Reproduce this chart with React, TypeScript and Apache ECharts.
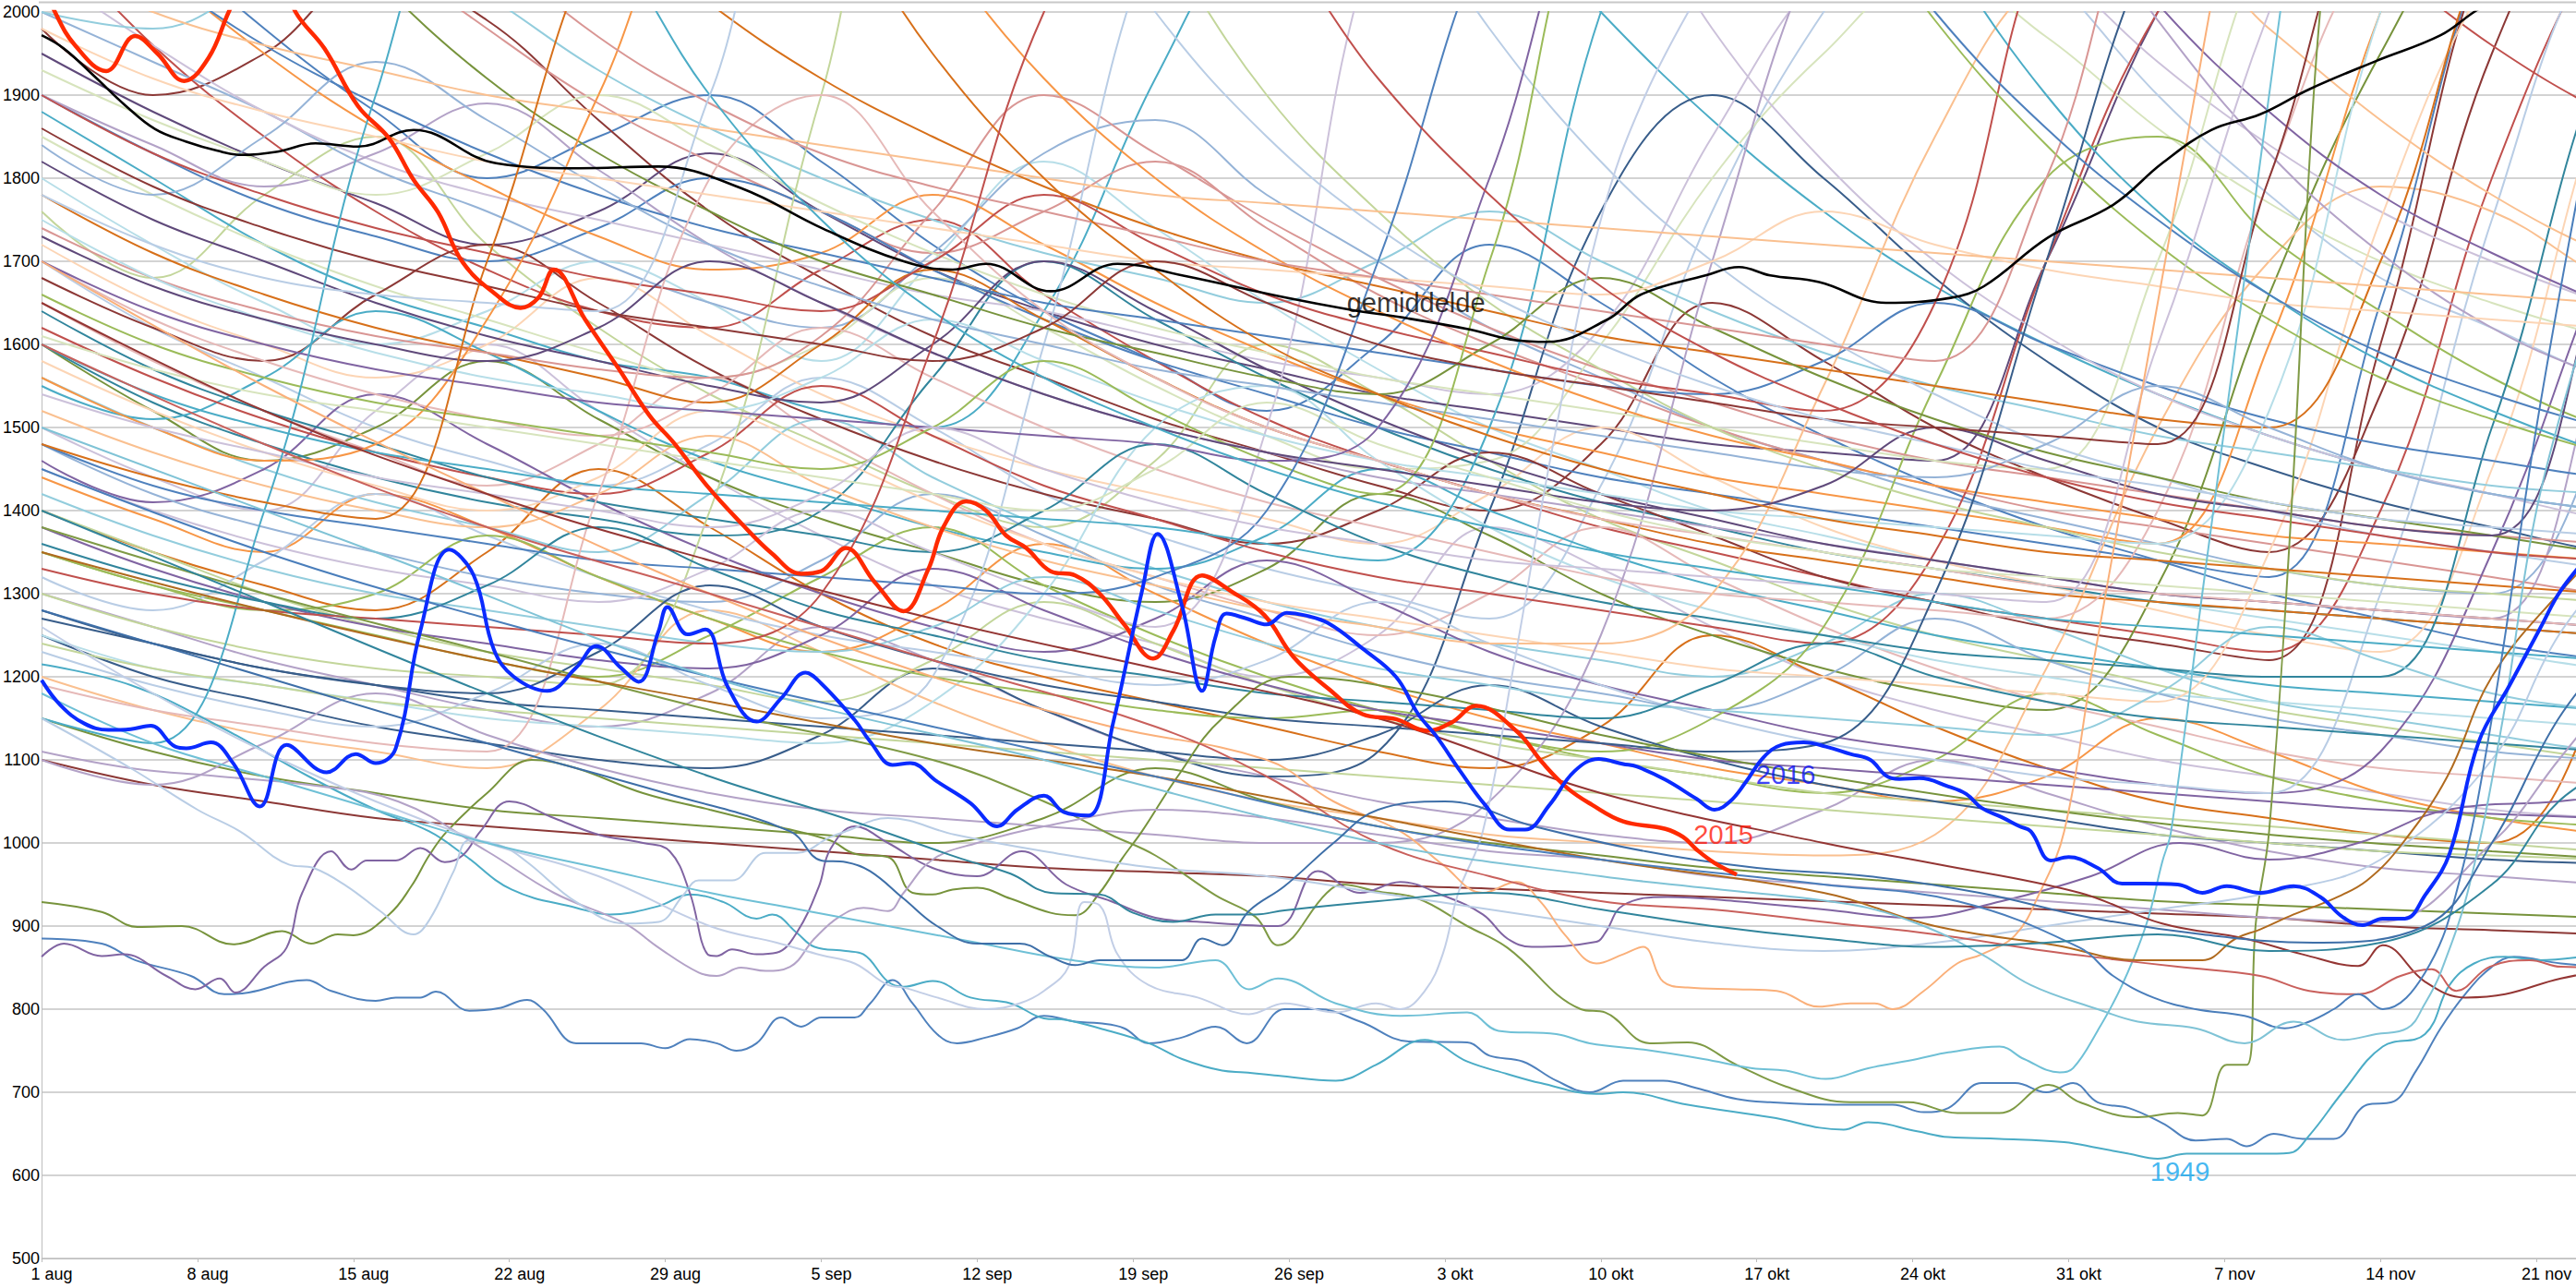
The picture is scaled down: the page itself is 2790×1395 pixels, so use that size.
import React, { useEffect, useRef } from "react";
import * as echarts from "echarts";

// x = days since 1 aug
const GRID_DAYS = [0, 5, 10, 15, 20, 25, 30, 35, 40, 45, 50, 55, 60, 65, 70, 75, 80, 85, 90, 95, 100, 105, 110, 115, 120];
const MONTHS = [
  { name: "aug", len: 31 },
  { name: "sep", len: 30 },
  { name: "okt", len: 31 },
  { name: "nov", len: 30 },
];
const Y_MIN = 500;
const Y_MAX = 2000;
const Y_STEP = 100;
const X_MAX = 120;
const X_STEP = 7;

// Background years sampled every 5 days (values in cm)
const BG_A = [
  [2250, 2100, 1980, 1880, 1800, 1850, 1900, 1820, 1720, 1640, 1580, 1520, 1600, 1720, 1650, 1560, 1490, 1430, 1380, 1340, 1300, 1270, 1240, 1220, 1200],
  [1980, 1900, 1950, 2050, 1990, 1870, 1760, 1680, 1610, 1560, 1510, 1470, 1430, 1400, 1480, 1650, 1580, 1500, 1440, 1390, 1350, 1540, 1950, 2200, 2300],
  [1760, 1680, 1780, 1850, 1720, 1620, 1540, 1480, 1420, 1380, 1460, 1600, 1540, 1460, 1390, 1340, 1290, 1250, 1220, 1190, 1160, 1140, 1120, 1100, 1080],
  [1500, 1440, 1400, 1520, 1600, 1520, 1440, 1370, 1310, 1270, 1240, 1200, 1250, 1380, 1330, 1260, 1200, 1160, 1130, 1100, 1080, 1060, 1040, 1030, 1020],
  [1880, 1800, 1720, 1660, 1620, 1580, 1560, 1520, 1500, 1640, 1920, 2150, 2250, 2150, 2000, 1870, 1760, 1670, 1600, 1540, 1490, 1450, 1420, 1400, 1380],
  [1400, 1350, 1310, 1280, 1350, 1450, 1380, 1300, 1240, 1200, 1170, 1140, 1110, 1090, 1140, 1250, 1200, 1140, 1090, 1050, 1030, 1010, 1000, 1200, 1700],
  [1700, 1620, 1560, 1500, 1460, 1430, 1480, 1560, 1500, 1420, 1370, 1330, 1300, 1270, 1430, 1760, 2000, 2160, 2050, 1900, 1780, 1680, 1620, 1560, 1520],
  [2100, 1960, 1850, 1760, 1690, 1640, 1620, 1690, 1750, 1660, 1580, 1510, 1460, 1420, 1380, 1350, 1320, 1290, 1270, 1250, 1230, 1400, 1800, 2100, 2300],
  [1600, 1520, 1460, 1500, 1580, 1510, 1440, 1390, 1350, 1310, 1290, 1330, 1420, 1370, 1300, 1250, 1210, 1180, 1160, 1310, 1660, 1950, 2150, 2200, 2200],
  [1300, 1260, 1220, 1190, 1160, 1140, 1180, 1260, 1220, 1160, 1110, 1080, 1050, 1030, 1010, 1000, 1040, 1100, 1060, 1020, 990, 970, 960, 950, 940],
  [1800, 1720, 1650, 1600, 1640, 1700, 1650, 1580, 1700, 1820, 1740, 1650, 1570, 1500, 1450, 1400, 1370, 1340, 1310, 1290, 1270, 1250, 1230, 1210, 1200],
  [1440, 1390, 1350, 1420, 1380, 1320, 1270, 1230, 1280, 1360, 1300, 1240, 1190, 1150, 1120, 1090, 1070, 1050, 1080, 1150, 1110, 1060, 1030, 1010, 990],
  [2000, 1940, 1880, 1810, 1760, 1700, 1650, 1620, 1710, 1830, 1870, 1780, 1700, 1620, 1560, 1500, 1460, 1420, 1390, 1360, 1330, 1310, 1300, 1500, 1900],
  [1650, 1580, 1520, 1470, 1430, 1480, 1560, 1490, 1420, 1360, 1320, 1280, 1250, 1300, 1380, 1320, 1260, 1210, 1170, 1140, 1110, 1090, 1080, 1070, 1060],
  [1350, 1310, 1280, 1250, 1220, 1200, 1250, 1320, 1380, 1310, 1250, 1200, 1160, 1130, 1100, 1080, 1060, 1100, 1180, 1130, 1080, 1050, 1030, 1020, 1010],
];
const BG_B = [
  [1950, 1880, 1820, 1770, 1720, 1760, 1830, 1760, 1690, 1640, 1600, 1570, 1540, 1520, 1500, 1480, 1470, 1460, 1700, 2000, 2200, 2200, 2100, 2000, 1950],
  [1560, 1500, 1450, 1410, 1380, 1350, 1420, 1510, 1440, 1380, 1330, 1290, 1260, 1240, 1220, 1200, 1240, 1300, 1260, 1210, 1170, 1150, 1130, 1110, 1100],
  [1720, 1650, 1600, 1560, 1600, 1680, 1610, 1540, 1490, 1450, 1420, 1390, 1360, 1420, 1500, 1440, 1380, 1340, 1310, 1280, 1250, 1230, 1450, 1900, 2200],
  [1250, 1200, 1170, 1140, 1120, 1100, 1090, 1130, 1210, 1160, 1110, 1080, 1110, 1400, 1760, 1900, 1800, 1680, 1580, 1500, 1450, 1410, 1380, 1350, 1330],
  [2300, 2300, 2200, 2080, 1980, 1890, 1820, 1760, 1710, 1760, 1820, 1740, 1660, 1600, 1550, 1500, 1460, 1430, 1400, 1380, 1360, 1340, 1320, 1300, 1290],
  [1850, 1780, 1720, 1670, 1630, 1590, 1560, 1600, 1680, 1620, 1550, 1490, 1450, 1460, 1600, 1800, 1950, 2050, 1970, 1860, 1770, 1700, 1650, 1610, 1580],
  [1460, 1410, 1450, 1540, 1480, 1410, 1350, 1300, 1260, 1230, 1270, 1340, 1290, 1230, 1190, 1160, 1130, 1110, 1090, 1070, 1060, 1110, 1350, 1700, 2000],
  [1600, 1530, 1480, 1440, 1410, 1390, 1370, 1400, 1560, 1700, 1630, 1560, 1500, 1450, 1410, 1380, 1350, 1330, 1310, 1290, 1280, 1270, 1260, 1250, 1240],
  [1200, 1160, 1130, 1110, 1090, 1160, 1280, 1230, 1170, 1120, 1080, 1050, 1030, 1010, 1000, 990, 985, 1010, 1210, 1500, 1700, 1790, 1760, 1680, 1620],
  [1900, 1830, 1770, 1730, 1700, 1740, 1800, 1760, 1690, 1630, 1580, 1540, 1500, 1470, 1440, 1420, 1400, 1380, 1360, 1340, 1320, 1650, 2100, 2300, 2300],
  [1680, 1620, 1580, 1660, 1720, 1650, 1570, 1510, 1460, 1420, 1390, 1360, 1400, 1470, 1420, 1370, 1320, 1290, 1260, 1240, 1220, 1600, 2100, 2300, 2300],
  [1400, 1350, 1300, 1260, 1230, 1210, 1190, 1170, 1220, 1290, 1240, 1190, 1150, 1120, 1100, 1080, 1060, 1050, 1040, 1030, 1020, 1010, 1000, 990, 985],
  [2050, 1960, 1880, 1820, 1780, 1750, 1720, 1690, 1660, 1640, 1610, 1580, 1560, 1540, 1620, 1850, 2050, 2140, 2060, 1940, 1840, 1760, 1700, 1650, 1610],
  [1550, 1510, 1560, 1640, 1590, 1520, 1460, 1420, 1380, 1350, 1330, 1370, 1450, 1400, 1350, 1310, 1280, 1250, 1230, 1210, 1190, 1180, 1170, 1160, 1150],
  [1780, 1710, 1660, 1620, 1590, 1560, 1530, 1600, 1690, 1630, 1560, 1500, 1460, 1420, 1390, 1360, 1340, 1320, 1300, 1290, 1280, 1270, 1260, 1250, 1240],
];
const BG_C = [
  [1320, 1280, 1340, 1420, 1370, 1320, 1280, 1250, 1230, 1210, 1190, 1220, 1290, 1240, 1190, 1150, 1120, 1100, 1080, 1070, 1060, 1300, 1750, 2100, 2200],
  [1620, 1560, 1510, 1470, 1440, 1420, 1470, 1550, 1490, 1430, 1390, 1350, 1320, 1300, 1280, 1260, 1240, 1350, 1700, 2000, 2150, 2060, 1960, 1880, 1820],
  [1150, 1110, 1080, 1060, 1040, 1030, 1020, 1010, 1000, 1030, 1090, 1050, 1020, 1000, 985, 970, 960, 950, 940, 930, 925, 920, 915, 910, 905],
  [1900, 1840, 1790, 1830, 1890, 1810, 1720, 1650, 1590, 1540, 1500, 1470, 1440, 1420, 1400, 1380, 1360, 1340, 1320, 1300, 1290, 1280, 1270, 1600, 2000],
  [1250, 1210, 1190, 1170, 1150, 1140, 1130, 1120, 1170, 1300, 1500, 1550, 1460, 1380, 1320, 1280, 1250, 1220, 1200, 1180, 1170, 1160, 1150, 1140, 1130],
  [2200, 2060, 1950, 1860, 1790, 1730, 1690, 1710, 1780, 1720, 1650, 1590, 1540, 1500, 1470, 1440, 1420, 1400, 1380, 1360, 1600, 2000, 2300, 2300, 2300],
  [1480, 1420, 1380, 1350, 1320, 1300, 1290, 1340, 1420, 1370, 1310, 1270, 1230, 1200, 1180, 1160, 1200, 1270, 1220, 1180, 1150, 1130, 1110, 1100, 1090],
  [1700, 1630, 1580, 1540, 1510, 1490, 1540, 1620, 1560, 1500, 1450, 1410, 1380, 1350, 1320, 1300, 1290, 1280, 1270, 1400, 1800, 2100, 2200, 2200, 2200],
  [1350, 1310, 1280, 1300, 1370, 1320, 1270, 1230, 1200, 1180, 1160, 1150, 1160, 1130, 1110, 1150, 1260, 1550, 1800, 1850, 1730, 1640, 1560, 1500, 1460],
  [1820, 1750, 1700, 1650, 1610, 1580, 1550, 1530, 1600, 1700, 1640, 1570, 1510, 1460, 1420, 1390, 1360, 1340, 1320, 1300, 1290, 1280, 1270, 1260, 1250],
  [2000, 1980, 2040, 2100, 2020, 1930, 1860, 1800, 1750, 1710, 1680, 1650, 1700, 1760, 1700, 1640, 1590, 1550, 1520, 1490, 1470, 1450, 1430, 1420, 1410],
  [1580, 1520, 1470, 1430, 1400, 1440, 1520, 1470, 1410, 1360, 1320, 1290, 1270, 1250, 1230, 1210, 1200, 1190, 1180, 1170, 1350, 1750, 2050, 2200, 2200],
  [1270, 1240, 1210, 1190, 1170, 1160, 1150, 1140, 1130, 1120, 1110, 1100, 1130, 1190, 1140, 1100, 1070, 1050, 1030, 1010, 1000, 990, 980, 975, 970],
  [1740, 1680, 1640, 1610, 1590, 1570, 1560, 1610, 1760, 1900, 1830, 1750, 1680, 1620, 1570, 1530, 1490, 1460, 1440, 1420, 1400, 1380, 1370, 1360, 1350],
  [1930, 1870, 1820, 1780, 1830, 1900, 1840, 1770, 1710, 1660, 1620, 1590, 1560, 1540, 1520, 1500, 1480, 1460, 1450, 1700, 2100, 2300, 2300, 2300, 2300],
];
const BG_D = [
  [1380, 1330, 1290, 1260, 1240, 1220, 1210, 1250, 1330, 1280, 1230, 1190, 1160, 1140, 1120, 1100, 1090, 1080, 1070, 1060, 1050, 1040, 1035, 1030, 1025],
  [1640, 1570, 1520, 1480, 1440, 1410, 1390, 1370, 1350, 1400, 1480, 1420, 1360, 1320, 1290, 1270, 1250, 1230, 1220, 1210, 1200, 1200, 1500, 1950, 2200],
  [1520, 1470, 1430, 1400, 1380, 1420, 1490, 1430, 1380, 1340, 1310, 1280, 1260, 1240, 1240, 1300, 1550, 1850, 2050, 2090, 1980, 1870, 1780, 1710, 1660],
  [2150, 2050, 1960, 1890, 1830, 1780, 1740, 1710, 1680, 1650, 1630, 1610, 1590, 1570, 1550, 1540, 1580, 1650, 1600, 1550, 1510, 1480, 1460, 1440, 1430],
  [1100, 1070, 1050, 1030, 1020, 1010, 1000, 990, 980, 970, 965, 960, 950, 945, 940, 935, 930, 925, 920, 915, 910, 900, 895, 890, 885],
  [1300, 1260, 1230, 1210, 1200, 1190, 1400, 1900, 2300, 2300, 2100, 1900, 1760, 1650, 1570, 1500, 1450, 1410, 1380, 1350, 1330, 1310, 1300, 1290, 1280],
  [1450, 1400, 1360, 1330, 1310, 1290, 1330, 1400, 1350, 1300, 1260, 1500, 2100, 2300, 2200, 1980, 1820, 1700, 1610, 1540, 1490, 1450, 1420, 1390, 1370],
  [1600, 1540, 1500, 1470, 1450, 1430, 1420, 1410, 1400, 1390, 1380, 1360, 1340, 1500, 2000, 2300, 2300, 2090, 1900, 1760, 1660, 1580, 1520, 1470, 1430],
  [2300, 2300, 2300, 2300, 2250, 2120, 2010, 1920, 1850, 1790, 1740, 1700, 1670, 1640, 1610, 1590, 1570, 1550, 1530, 1510, 1500, 1700, 2100, 2300, 2300],
  [1230, 1190, 1160, 1140, 1180, 1240, 1190, 1150, 1200, 1600, 2100, 2300, 2180, 1980, 1820, 1700, 1610, 1540, 1480, 1440, 1400, 1370, 1350, 1330, 1310],
  [1900, 1830, 1780, 1740, 1710, 1680, 1660, 1640, 1700, 1780, 1720, 1660, 1620, 1590, 1560, 1540, 1520, 1650, 2100, 2300, 2300, 2300, 2300, 2300, 2300],
  [2300, 2300, 2180, 2040, 1920, 1830, 1760, 1700, 1660, 1620, 1590, 1560, 1540, 1600, 1680, 1620, 1560, 1510, 1470, 1440, 1410, 1390, 1370, 1350, 1340],
  [1100, 1070, 1120, 1180, 1130, 1090, 1060, 1040, 1030, 1020, 1010, 1000, 1000, 1050, 1250, 1700, 2100, 2300, 2180, 1990, 1830, 1710, 1620, 1560, 1510],
  [1750, 1680, 1630, 1590, 1560, 1540, 1520, 1560, 1630, 1580, 1530, 1490, 1460, 1440, 1420, 1400, 1390, 1380, 1370, 1360, 1520, 2000, 2300, 2300, 2300],
  [1560, 1500, 1460, 1480, 1630, 1900, 2200, 2240, 2080, 1920, 1800, 1710, 1640, 1580, 1530, 1490, 1460, 1430, 1410, 1390, 1370, 1360, 1350, 1340, 1330],
];
const BG_E = [
  [1840, 1780, 1850, 1940, 1870, 1790, 1720, 1670, 1630, 1600, 1570, 1550, 1530, 1510, 1490, 1470, 1450, 1440, 1480, 1550, 1500, 1450, 1420, 1400, 1380],
  [1190, 1160, 1140, 1120, 1110, 1420, 1800, 1900, 1760, 1640, 1560, 1500, 1460, 1420, 1390, 1370, 1350, 1330, 1310, 1300, 1290, 1280, 1270, 1260, 1250],
  [1660, 1600, 1560, 1530, 1510, 1490, 1470, 1450, 1500, 1580, 1520, 1460, 1420, 1700, 2200, 2300, 2180, 1990, 1840, 1720, 1630, 1560, 1510, 1470, 1440],
  [1730, 1670, 1630, 1600, 1580, 1620, 1700, 1650, 1590, 1540, 1500, 1470, 1450, 1430, 1410, 1400, 1430, 1500, 1460, 1420, 1400, 1380, 1370, 1700, 2100],
  [1420, 1370, 1330, 1300, 1280, 1260, 1240, 1230, 1260, 1320, 1280, 1240, 1210, 1190, 1170, 1160, 1150, 1140, 1130, 1180, 1260, 1220, 1180, 1160, 1150],
  [1980, 1920, 1880, 1850, 1820, 1800, 1780, 1760, 1740, 1720, 1700, 1690, 1680, 1670, 1660, 1700, 1760, 1720, 1690, 1670, 1650, 1640, 1630, 1620, 1610],
  [1280, 1240, 1210, 1190, 1180, 1230, 1310, 1260, 1220, 1190, 1170, 1150, 1140, 1130, 1120, 1110, 1120, 1300, 1700, 2100, 2300, 2300, 2180, 2020, 1900],
  [2300, 2300, 2300, 2200, 2080, 1970, 1890, 1830, 1790, 1760, 1730, 1700, 1680, 1660, 1640, 1620, 1600, 1580, 1800, 2200, 2300, 2300, 2300, 2300, 2300],
  [1610, 1570, 1540, 1520, 1500, 1480, 1460, 1440, 1420, 1400, 1450, 1530, 1480, 1440, 1400, 1370, 1350, 1330, 1320, 1310, 1300, 1290, 1280, 1270, 1260],
  [1700, 1640, 1600, 1570, 1550, 1530, 1520, 1510, 1500, 1490, 1480, 1460, 1500, 1800, 2200, 2300, 2300, 2300, 2180, 2010, 1880, 1780, 1710, 1650, 1600],
  [1360, 1320, 1290, 1270, 1310, 1380, 1330, 1280, 1250, 1220, 1200, 1180, 1170, 1160, 1150, 1190, 1240, 1200, 1170, 1150, 1140, 1130, 1120, 1110, 1100],
  [2060, 2000, 1960, 1930, 1900, 1880, 1860, 1840, 1820, 1800, 1780, 1770, 1760, 1750, 1740, 1730, 1720, 1710, 1700, 1690, 1680, 1670, 1660, 1650, 1640],
  [1480, 1430, 1400, 1380, 1360, 1340, 1330, 1320, 1310, 1300, 1320, 1400, 1700, 2100, 2300, 2300, 2180, 2000, 1860, 1750, 1660, 1590, 1540, 1500, 1470],
  [1860, 1790, 1740, 1700, 1670, 1640, 1620, 1600, 1580, 1620, 1700, 1650, 1600, 1570, 1550, 1530, 1510, 1500, 1490, 1480, 1800, 2200, 2300, 2300, 2300],
  [1240, 1210, 1190, 1170, 1160, 1150, 1140, 1130, 1120, 1110, 1100, 1090, 1080, 1070, 1060, 1050, 1040, 1030, 1020, 1010, 1000, 990, 985, 980, 975],
  [1540, 1500, 1470, 1440, 1420, 1400, 1380, 1420, 1500, 1450, 1410, 1380, 1360, 1340, 1330, 1320, 1310, 1300, 1290, 1600, 2000, 2300, 2300, 2300, 2300],
  [1150, 1120, 1400, 1900, 2200, 2100, 1900, 1750, 1640, 1560, 1500, 1450, 1410, 1380, 1350, 1330, 1310, 1290, 1270, 1260, 1250, 1240, 1230, 1220, 1210],
  [1480, 1440, 1410, 1390, 1700, 2100, 2300, 2150, 1950, 1800, 1690, 1600, 1540, 1490, 1450, 1420, 1390, 1370, 1350, 1340, 1330, 1320, 1310, 1300, 1290],
  [1780, 1720, 1680, 1660, 1650, 1640, 1900, 2300, 2300, 2200, 2000, 1850, 1740, 1660, 1600, 1550, 1510, 1480, 1450, 1430, 1410, 1390, 1380, 1370, 1360],
  [1330, 1300, 1280, 1270, 1260, 1250, 1240, 1300, 1600, 2000, 2200, 2100, 1920, 1780, 1670, 1590, 1530, 1480, 1440, 1410, 1390, 1370, 1350, 1340, 1330],
];

// Individually traced low years: [day, value]
const T_LOW_BLUE = [[0,885],[2.7,879],[4.2,859],[6.7,840],[8.2,818],[9.3,820],[11.9,835],[13,822],[15,810],[15.9,814],[17,814],[17.7,821],[19.2,798],[20.5,801],[21.8,811],[22.5,800],[24,759],[25.1,759],[26.9,759],[28,753],[29.1,764],[30.3,759],[31.2,750],[32.1,759],[33.2,790],[34.1,779],[35,790],[36.5,790],[37.2,807],[38.2,835],[39.1,807],[40.2,770],[41.1,759],[42.4,766],[43.8,777],[45,792],[46.4,785],[47.5,783],[48.6,777],[49.7,759],[51.2,766],[52.7,779],[54.1,759],[55.8,800],[57.3,800],[59.2,785],[61.4,761],[64,760],[65,744],[66.5,737],[68,714],[69.5,700],[71,714],[72.8,714],[74.3,705],[76.1,692],[77.6,688],[80.5,685],[83.1,685],[84.5,676],[85.6,681],[87.1,711],[88.6,711],[90,700],[91.2,711],[92.3,688],[93.7,681],[95.2,663],[96.7,642],[98.1,644],[99,635],[100.2,650],[101.5,644],[102.9,644],[104.4,685],[105.5,688],[106.6,726],[107.7,777],[108.8,818],[110,851],[111,863],[113.1,855],[116,850]];
const T_1949 = [[0,1215],[4,1190],[8,1140],[12,1080],[15,1040],[17.4,1014],[19,985],[21.1,944],[24,922],[25.5,914],[27.7,924],[29.1,938],[30.6,929],[32.1,909],[32.8,914],[33.9,892],[34.7,875],[36.1,870],[36.9,866],[38,833],[38.7,827],[40,834],[41.7,814],[43.5,807],[45,789],[46,787],[47.5,777],[49.7,759],[51.2,740],[53,726],[54,724],[55.5,720],[58.1,714],[59.9,733],[62.1,763],[64,737],[65.8,722],[67.3,711],[69.8,698],[71,700],[73.9,685],[77.6,670],[80.9,655],[82,664],[84.2,653],[85.6,646],[87.9,644],[90.8,640],[92.3,633],[93.7,626],[95,620],[96.3,626],[99.6,626],[100.9,627],[101.8,648],[103.3,700],[105.1,755],[107,770],[108.1,829],[109.2,855],[110.6,863],[112.1,859],[114,863]];
const T_OLIVE_A = [[0,929],[2.7,917],[4.3,899],[6.3,900],[8.6,878],[10.8,894],[12.1,879],[13.3,890],[14,889],[15.6,914],[16.6,948],[17.4,985],[18.2,1014],[20,1060],[22,1100],[24,1090],[27,1060],[30,1040],[33,1020],[35.4,1003],[36.5,987],[38,983],[39.1,940],[40,938],[40.9,944],[42,946],[43.5,933],[45.3,916],[46.4,913],[47.5,940],[48.5,981],[49.4,1014],[51,1080],[53,1150],[56,1200],[62,1180],[70,1130],[80,1080],[90,1040],[100,1010],[110,990],[116,980]];
const T_OLIVE_B = [[0,1380],[10,1300],[20,1230],[30,1160],[40,1100],[45,1050],[48,1010],[50,985],[52.7,937],[54.5,911],[55.5,877],[57.7,940],[58.4,950],[59.9,942],[61.8,933],[64,900],[65.8,874],[69.1,800],[70.2,796],[72.2,759],[73.9,760],[76.1,733],[78.3,707],[81.2,688],[83.8,688],[86,675],[87.9,675],[90.1,709],[91.5,688],[94.1,670],[95.9,675],[97,672],[98.1,733],[99,733],[99.4,903],[100,1014],[101,1400],[102,1900],[103,2200]];
const T_PURPLE = [[0,863],[1,879],[2.7,864],[3.7,866],[5.6,840],[6.9,824],[8,837],[8.7,820],[10,851],[11,874],[11.7,940],[13,990],[13.9,968],[14.6,979],[15.9,979],[17,994],[18.1,977],[18.9,985],[19.7,1014],[21,1050],[23,1030],[25,1010],[27,1000],[28.2,990],[29.1,940],[29.9,866],[30.3,864],[31,872],[32.1,866],[33,868],[33.9,892],[34.9,948],[35.4,992],[36.5,1020],[38,1000],[40,970],[42,960],[44,990],[46,950],[48,930],[50,910],[52,905],[55.5,900],[57.3,966],[59.2,940],[61,953],[62.9,937],[64.7,914],[65.8,885],[66.9,875],[69.8,881],[70.2,892],[71,925],[73,935],[76,930],[80,920],[84,910],[88,930],[92,960],[96,1000],[100,980],[104,1000],[108,1040],[113,1050],[116,1060]];
const T_LAVENDER = [[0,1110],[4,1090],[8,1080],[12,1070],[16,1050],[20,990],[23,940],[26.2,903],[27.7,874],[29.5,844],[30.3,840],[31.4,850],[32.5,846],[33.6,851],[34.7,885],[35.8,911],[36.9,922],[38,918],[38.7,940],[40,980],[42,1000],[45,1020],[50,1040],[55,1030],[60,1010],[65,990],[70,980],[75,960],[80,950],[85,940],[90,930],[95,920],[100,910],[105,905],[110,1000],[113,1100],[116,1200]];
const T_PALE_A = [[0,1260],[5,1180],[10,1110],[15,1050],[20,1000],[25,960],[30,900],[33,880],[35,865],[36.5,855],[38,829],[38.7,826],[40.2,814],[42.4,800],[43.9,807],[45,822],[46.1,851],[46.8,929],[47.5,925],[48.3,866],[49.7,829],[51.9,814],[54.2,794],[55.8,807],[58.1,796],[59.9,807],[61,800],[62.1,822],[62.9,866],[63.6,940],[64.7,1014],[66,1200],[68,1500],[70,1750],[72,1900],[75,2050]];
const T_PALE_B = [[0,1150],[4,1090],[7,1040],[8.9,1014],[11.1,974],[12.2,970],[13.7,948],[15.2,918],[16.7,890],[17.4,907],[18.5,966],[19.2,1003],[20.7,996],[21.8,977],[24,929],[26.2,903],[27.7,905],[28.8,937],[29.5,955],[31,955],[32.5,988],[33.9,988],[35.4,1007],[36.1,1014],[38,1030],[41,1010],[45,990],[50,970],[55,960],[60,940],[65,920],[70,900],[75,880],[80,870],[85,880],[90,900],[95,920],[100,940],[105,980],[110,1100],[113,1250],[116,1350]];
const T_AQUA = [[0,1180],[5,1120],[10,1080],[15,1040],[20,1000],[25,970],[30,940],[34,920],[38,900],[42,880],[46,860],[50,850],[52.7,859],[54.2,824],[55.5,837],[58.1,807],[61,792],[64,796],[65.4,774],[68,770],[69.5,759],[72,751],[74.6,740],[76.8,729],[78.3,726],[80.1,716],[82,729],[84.2,740],[85.6,748],[87.9,755],[89,740],[90.6,724],[91.2,729],[92.3,774],[93.4,829],[94.5,903],[95.2,977],[95.6,1014],[97,1300],[99,1700],[101,2100]];
const T_PEACH = [[0,1700],[10,1550],[20,1420],[30,1300],[40,1200],[48,1140],[55,1100],[58,1050],[61,1014],[62.9,974],[64.7,940],[66.2,953],[67.3,929],[68.4,889],[69.8,855],[71,866],[71.9,875],[72.8,833],[73.9,826],[76.1,824],[77.9,822],[79.8,803],[81.2,807],[82.3,807],[83.1,800],[84.5,822],[86,855],[87.1,866],[88.6,889],[89.7,940],[90.8,1014],[92,1200],[94,1500],[96,1800],[98,2100]];
const T_DARKRED = [[0,1650],[10,1520],[20,1420],[30,1340],[40,1270],[50,1210],[60,1150],[70,1060],[80,1000],[85,975],[91.5,940],[95.2,903],[98.9,885],[101.5,866],[104,852],[105.1,877],[107,833],[108.8,814],[110.6,818],[113.1,837],[116,850]];
const T_RED = [[0,1600],[10,1480],[20,1380],[30,1300],[40,1220],[50,1140],[55,1080],[60,1000],[65,960],[70,930],[75,920],[80,905],[85,890],[90,870],[93,860],[95.9,851],[99.6,840],[101.8,822],[104,818],[105.9,840],[107.3,848],[108.4,822],[109.9,851],[111.7,859],[113.1,851],[116,850]];
const T_BROWN = [[0,1350],[10,1280],[20,1220],[30,1170],[40,1120],[50,1080],[60,1030],[70,980],[80,940],[85,900],[90.4,877],[94.1,859],[97,859],[98.5,885],[99.6,896],[101.1,914],[102.9,933],[104.4,955],[106,1000],[108,1080],[110,1200],[113,1300],[116,1380]];
const T_STEEL_A = [[0,1450],[10,1350],[20,1270],[30,1200],[40,1140],[50,1080],[60,1020],[70,980],[80,950],[86,930],[91.5,874],[93,840],[94.8,814],[96.7,800],[98.9,792],[100.7,777],[101.8,785],[102.9,800],[104,818],[105.1,800],[107,844],[108.5,950],[110,1150],[112,1500],[114,1800]];
const T_TEAL_LIGHT = [[0,1500],[15,1350],[30,1200],[45,1100],[60,1000],[70,960],[75,945],[81.2,926],[84.2,903],[87.1,866],[89.3,829],[92.3,800],[94.1,785],[96.7,777],[98.9,759],[101.1,785],[103.3,763],[104.8,770],[106.2,777],[107,807],[107.7,844],[109,950],[110.5,1150],[112,1400],[114,1600]];
const T_TEAL_DARK = [[0,1400],[10,1290],[20,1180],[30,1080],[36,1030],[41.3,981],[43.5,963],[45.3,940],[47.5,938],[49,916],[50.8,905],[52.7,914],[54.5,914],[55.8,919],[60,930],[65,940],[70,920],[75,900],[80,885],[85,875],[90,880],[95,890],[100,870],[105,880],[110,950],[113,1050],[116,1100]];
const T_STEEL_B = [[0,1280],[10,1200],[20,1120],[28,1060],[33.6,1014],[35,979],[36.1,977],[37.2,966],[38.7,933],[40.2,900],[42,879],[43.9,879],[45.3,863],[46.4,853],[47.5,859],[49.7,859],[51.2,859],[52.1,885],[53,877],[54.2,918],[55.8,948],[58,1000],[60,1040],[63,1050],[67,1020],[72,990],[77,970],[82,960],[87,940],[92,910],[97,890],[102,880],[107,900],[110,1000],[113,1150],[116,1250]];

// Highlighted series
const MEAN = [[0,1972],[1,1956],[2.4,1922],[3.7,1889],[5.1,1859],[6.5,1844],[7.9,1833],[9,1828],[10.6,1832],[12.3,1842],[14.2,1838],[16.7,1858],[20.4,1818],[24.1,1812],[27.7,1814],[31.4,1788],[35.1,1739],[38.7,1700],[40.9,1690],[42.4,1697],[45.3,1664],[48.3,1697],[51.2,1683],[55.9,1656],[58.7,1642],[61.4,1631],[64.1,1618],[66.2,1605],[67.6,1603],[70.3,1630],[71.8,1660],[74.7,1683],[76.2,1693],[77.6,1683],[79.8,1675],[82.8,1650],[85.7,1656],[87.2,1670],[90.1,1729],[93,1768],[95.2,1818],[97.4,1858],[99.6,1877],[101.8,1907],[104.8,1941],[107.7,1972],[109.2,2000],[111,2030]];
const Y2015 = [[0,2040],[0.6,2000],[1.5,1960],[2.9,1929],[4.2,1971],[5.2,1950],[6.4,1917],[7.5,1945],[8.4,2000],[9.5,2060],[10.5,2060],[11.4,2000],[12.7,1956],[14.2,1887],[15.6,1848],[16.7,1798],[17.8,1759],[18.9,1699],[20.4,1660],[21.5,1644],[22.3,1656],[23,1690],[24.4,1630],[25.9,1571],[27.3,1514],[28.4,1481],[29.9,1429],[31.4,1385],[32.8,1348],[34.1,1324],[35,1327],[36.1,1355],[37.4,1314],[38.7,1279],[39.8,1329],[40.5,1381],[41.5,1411],[42.4,1400],[43.3,1370],[44.2,1355],[45.3,1327],[46.4,1322],[47.5,1300],[48.6,1263],[49.9,1222],[50.8,1255],[52.1,1322],[53.4,1303],[54.9,1274],[56.2,1224],[57.8,1185],[59.3,1155],[60.8,1149],[62.2,1135],[63.3,1145],[64.4,1165],[66.2,1135],[67.4,1096],[68.5,1066],[69.6,1046],[71,1026],[72.9,1017],[73.7,1007],[74.3,992],[75.1,976],[76.1,962]];
const Y2016 = [[0,1196],[0.84,1166],[1.9,1144],[3,1136],[4,1137],[4.9,1141],[6,1116],[6.5,1114],[7.6,1121],[8.6,1096],[9.8,1044],[11,1118],[12.8,1085],[14.1,1107],[15,1096],[15.9,1114],[17,1255],[18.3,1353],[19.4,1322],[20.3,1233],[21.2,1200],[22.7,1183],[24,1211],[24.9,1237],[26,1211],[26.8,1194],[27.7,1255],[28.1,1284],[29,1251],[29.8,1257],[30.8,1188],[32.1,1146],[33.2,1174],[34.3,1205],[35,1192],[36.5,1148],[37.2,1122],[38.2,1094],[39,1096],[40.2,1074],[41.7,1048],[42.9,1020],[43.8,1040],[45,1057],[45.9,1037],[47,1033],[48.1,1144],[49.4,1303],[50.1,1372],[51.2,1285],[52.1,1183],[52.7,1248],[53.2,1276],[54.1,1270],[55,1263],[55.9,1277],[56.7,1274],[57.8,1264],[59.3,1234],[60.8,1200],[61.8,1155],[62.6,1129],[63.7,1086],[64.8,1046],[65.9,1016],[66.6,1016],[67.7,1046],[68.8,1086],[69.9,1101],[71,1095],[71.6,1092],[72.9,1076],[74.3,1053],[75.1,1040],[75.8,1050],[76.5,1073],[77.3,1103],[78.1,1118],[79.1,1121],[80.1,1116],[81.2,1107],[82.1,1100],[82.8,1081],[83.4,1077],[84.3,1078],[85.6,1068],[86.4,1059],[87.1,1042],[88,1031],[88.8,1020],[89.3,1014],[90.2,979],[91,983],[92.3,970],[93.4,951],[94.4,951],[95.9,950],[97,940],[98.1,948],[99.6,940],[101.1,948],[102.3,935],[103.3,911],[104.2,901],[105.1,909],[106.1,909],[107,937],[108.1,987],[109.4,1121],[110.8,1190],[112.2,1260],[113.1,1304],[114.5,1350]];

// Series labels placed at data coordinates
const LABELS = [
  { text: "gemiddelde", at: [61.7, 1650], color: "#000000" },
  { text: "2016", at: [78.3, 1082], color: "#0A10F5" },
  { text: "2015", at: [75.5, 1010], color: "#FF1A0A" },
  { text: "1949", at: [96.0, 605], color: "#12A5EE" },
];

const PALETTE = [
  "#4F81BD", "#C0504D", "#9BBB59", "#8064A2", "#4BACC6", "#F79646",
  "#385D8A", "#8C3836", "#77933C", "#5F497A", "#31859C", "#D7701A",
  "#95B3D7", "#D99694", "#C3D69B", "#B3A2C7", "#93CDDD", "#FAC090",
  "#B9CDE5", "#E6B9B8", "#D7E4BD", "#CCC1DA", "#B7DEE8", "#FCD5B5",
];

const TRACED = [
  { data: T_LOW_BLUE, color: "#4F81BD" },
  { data: T_1949, color: "#4BACC6" },
  { data: T_OLIVE_A, color: "#77933C" },
  { data: T_OLIVE_B, color: "#7F9A45" },
  { data: T_PURPLE, color: "#8064A2" },
  { data: T_LAVENDER, color: "#B3A2C7" },
  { data: T_PALE_A, color: "#C2CEE6" },
  { data: T_PALE_B, color: "#B9CDE5" },
  { data: T_AQUA, color: "#6FC0D6" },
  { data: T_PEACH, color: "#FAB07A" },
  { data: T_DARKRED, color: "#943634" },
  { data: T_RED, color: "#C9605C" },
  { data: T_BROWN, color: "#B06A1E" },
  { data: T_STEEL_A, color: "#4A7EBB" },
  { data: T_TEAL_LIGHT, color: "#7FC3D6" },
  { data: T_TEAL_DARK, color: "#31859C" },
  { data: T_STEEL_B, color: "#3E6FA8" },
];

function dayLabel(d: number): string {
  let rest = Math.round(d);
  for (const m of MONTHS) {
    if (rest < m.len) return `${rest + 1} ${m.name}`;
    rest -= m.len;
  }
  return "";
}

const FONT = "'Liberation Sans', Arial, Helvetica, sans-serif";

export default function App() {
  const ref = useRef<HTMLDivElement>(null);

  useEffect(() => {
    if (!ref.current) return;
    const chart = echarts.init(ref.current, undefined, { renderer: "svg" });

    const bgAll = [...BG_A, ...BG_B, ...BG_C, ...BG_D, ...BG_E];
    const bgSeries: any[] = bgAll.map((vals, i) => ({
      type: "line",
      data: vals.map((v, j) => [GRID_DAYS[j], v]),
      smooth: 0.4,
      symbol: "none",
      silent: true,
      lineStyle: { width: 2, color: PALETTE[(i * 7) % PALETTE.length] },
      z: 2,
    }));
    const tracedSeries: any[] = TRACED.map((t) => ({
      type: "line",
      data: t.data,
      smooth: 0.4,
      symbol: "none",
      silent: true,
      lineStyle: { width: 2, color: t.color },
      z: 2,
    }));
    const highlight: any[] = [
      { data: MEAN, color: "#000000", width: 2.6 },
      { data: Y2015, color: "#FF2A00", width: 4.5 },
      { data: Y2016, color: "#0A2BFF", width: 4 },
    ].map((h) => ({
      type: "line",
      data: h.data,
      smooth: 0.4,
      symbol: "none",
      silent: true,
      lineStyle: { width: h.width, color: h.color },
      z: 4,
    }));
    const labelSeries: any[] = LABELS.map((l) => ({
      type: "scatter",
      data: [l.at],
      symbolSize: 0,
      silent: true,
      z: 6,
      label: {
        show: true,
        position: "inside",
        formatter: l.text,
        color: l.color,
        fontSize: 29,
        fontFamily: FONT,
      },
    }));

    chart.setOption({
      animation: false,
      backgroundColor: "#ffffff",
      grid: { left: 42, right: 0, top: 13, bottom: 32, containLabel: false },
      xAxis: {
        type: "value",
        min: 0,
        max: X_MAX,
        interval: X_STEP,
        axisLine: { show: true, lineStyle: { color: "#bdbdbd", width: 1 } },
        axisTick: { show: true, length: 4, lineStyle: { color: "#bdbdbd" } },
        splitLine: { show: false },
        axisLabel: {
          formatter: (v: number) => dayLabel(v),
          color: "#000",
          fontSize: 18,
          fontFamily: FONT,
          margin: 8,
          padding: [0, 0, 0, 22],
          showMaxLabel: false,
        },
      },
      yAxis: {
        type: "value",
        min: Y_MIN,
        max: Y_MAX,
        interval: Y_STEP,
        axisLine: { show: true, lineStyle: { color: "#bdbdbd", width: 1 } },
        axisTick: { show: false },
        splitLine: { show: true, lineStyle: { color: "#c4c4c4", width: 1.5 } },
        axisLabel: {
          formatter: (v: number) => String(v),
          color: "#000",
          fontSize: 18,
          fontFamily: FONT,
          margin: 2,
        },
      },
      graphic: [
        {
          type: "line",
          shape: { x1: 42, y1: 2.5, x2: 2957, y2: 2.5 },
          style: { stroke: "#c8c8c8", lineWidth: 2 },
          silent: true,
        },
      ],
      series: [...bgSeries, ...tracedSeries, ...highlight, ...labelSeries],
    });

    return () => chart.dispose();
  }, []);

  return (
    <div style={{ position: "fixed", left: 0, top: 0, width: "100vw", height: "100vh", overflow: "hidden", background: "#fff" }}>
      <div ref={ref} style={{ width: 2957, height: 1395 }} />
    </div>
  );
}
